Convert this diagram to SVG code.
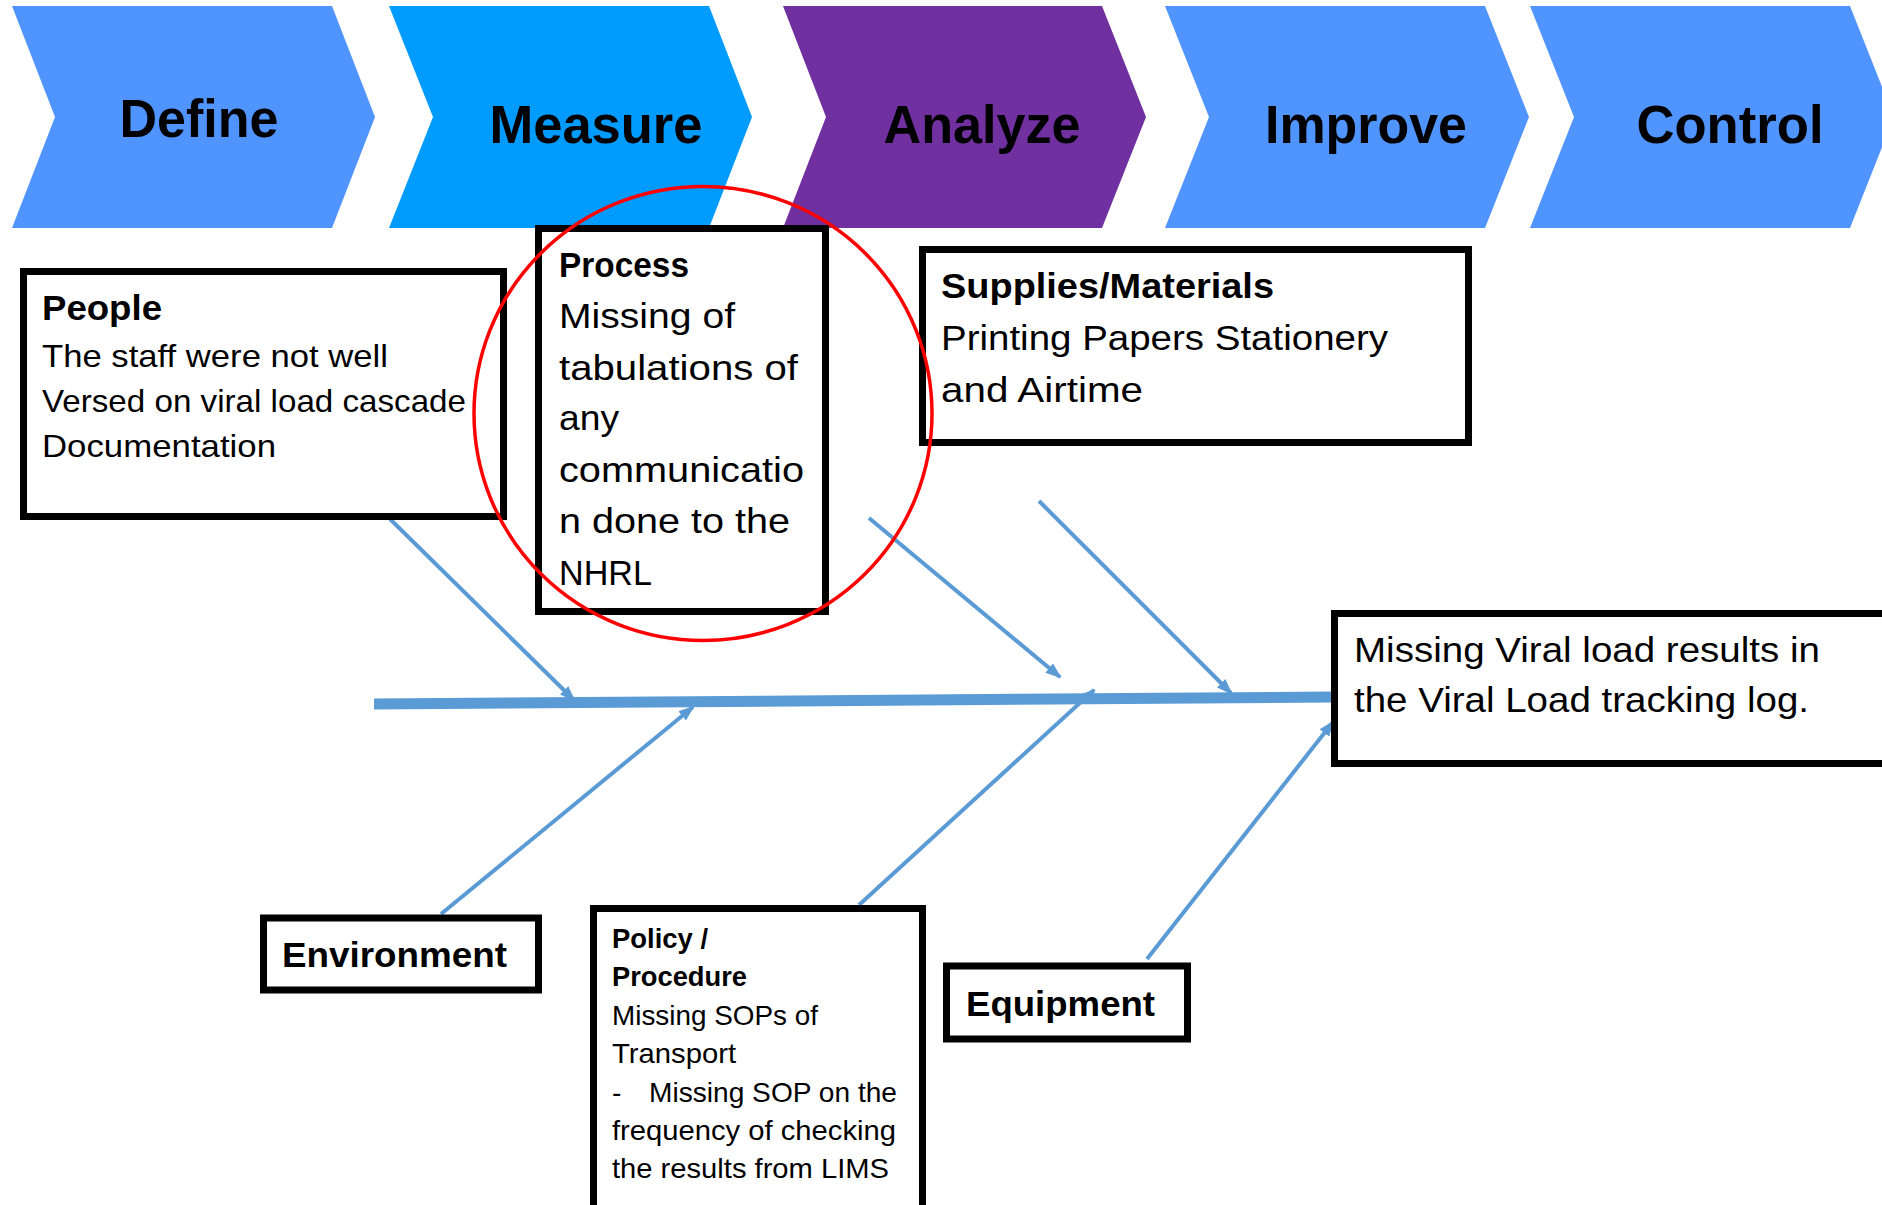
<svg xmlns="http://www.w3.org/2000/svg" width="1882" height="1205" viewBox="0 0 1882 1205">
<style>
.chev-t{font-family:"Liberation Sans",Arial,sans-serif;font-weight:bold;font-size:53px;fill:#000;text-anchor:middle}
.box{fill:#fff;stroke:#000;stroke-width:7}
.t{font-family:"Liberation Sans",Arial,sans-serif;fill:#000}
.b{font-weight:bold}
.bone{stroke:#5B9BD5;stroke-width:4;fill:none}
.spine{stroke:#5B9BD5;stroke-width:11;fill:none}
</style>
<defs>
<marker id="arr" markerUnits="userSpaceOnUse" markerWidth="16" markerHeight="12" refX="14" refY="6" orient="auto">
<path d="M0,0 L16,6 L0,12 Z" fill="#5B9BD5"/>
</marker>
</defs>
<g id="chevrons">
<g id="define"><polygon points="12,6 332,6 375,117 332,228 12,228 55,117" fill="#5094FF"/><text class="chev-t" x="199" y="137" textLength="159" lengthAdjust="spacingAndGlyphs">Define</text></g>
<g id="measure"><polygon points="389,6 709,6 752,117 709,228 389,228 433,117" fill="#009BFF"/><text class="chev-t" x="596" y="143" textLength="213" lengthAdjust="spacingAndGlyphs">Measure</text></g>
<g id="analyze"><polygon points="783,6 1102,6 1146,117 1102,228 783,228 826,117" fill="#7030A0"/><text class="chev-t" x="982" y="143" textLength="197" lengthAdjust="spacingAndGlyphs">Analyze</text></g>
<g id="improve"><polygon points="1165,6 1485,6 1529,117 1485,228 1165,228 1209,117" fill="#5094FF"/><text class="chev-t" x="1366" y="143" textLength="202" lengthAdjust="spacingAndGlyphs">Improve</text></g>
<g id="control"><polygon points="1530,6 1850,6 1894,117 1850,228 1530,228 1574,117" fill="#5094FF"/><text class="chev-t" x="1730" y="143" textLength="187" lengthAdjust="spacingAndGlyphs">Control</text></g>
</g>
<g id="connectors">
<line class="spine" x1="374" y1="704" x2="1334" y2="697"/>
<line class="bone" x1="390" y1="519" x2="574" y2="700" marker-end="url(#arr)"/>
<line class="bone" x1="441" y1="914" x2="693" y2="707" marker-end="url(#arr)"/>
<line class="bone" x1="869" y1="518" x2="1060" y2="677" marker-end="url(#arr)"/>
<line class="bone" x1="1039" y1="501" x2="1231" y2="693" marker-end="url(#arr)"/>
<line class="bone" x1="859" y1="905" x2="1094" y2="690" marker-end="url(#arr)"/>
<line class="bone" x1="1147" y1="959" x2="1333" y2="722" marker-end="url(#arr)"/>
</g>
<g id="people">
<rect class="box" x="23.5" y="271.5" width="480" height="245"/>
<text class="t b" x="42" y="320" font-size="35" textLength="120" lengthAdjust="spacingAndGlyphs">People</text>
<text class="t" x="42" y="367" font-size="32" textLength="346" lengthAdjust="spacingAndGlyphs">The staff were not well</text>
<text class="t" x="42" y="412" font-size="32" textLength="424" lengthAdjust="spacingAndGlyphs">Versed on viral load cascade</text>
<text class="t" x="42" y="457" font-size="32" textLength="234" lengthAdjust="spacingAndGlyphs">Documentation</text>
</g>
<g id="process">
<rect class="box" x="538.5" y="228.5" width="287" height="383"/>
<text class="t b" x="559" y="277" font-size="35" textLength="130" lengthAdjust="spacingAndGlyphs">Process</text>
<text class="t" x="559" y="328" font-size="35" textLength="176" lengthAdjust="spacingAndGlyphs">Missing of</text>
<text class="t" x="559" y="380" font-size="35" textLength="239" lengthAdjust="spacingAndGlyphs">tabulations of</text>
<text class="t" x="559" y="430" font-size="35" textLength="60" lengthAdjust="spacingAndGlyphs">any</text>
<text class="t" x="559" y="482" font-size="35" textLength="245" lengthAdjust="spacingAndGlyphs">communicatio</text>
<text class="t" x="559" y="533" font-size="35" textLength="231" lengthAdjust="spacingAndGlyphs">n done to the</text>
<text class="t" x="559" y="585" font-size="35" textLength="93" lengthAdjust="spacingAndGlyphs">NHRL</text>
</g>
<g id="supplies">
<rect class="box" x="922.5" y="249.5" width="546" height="193"/>
<text class="t b" x="941" y="298" font-size="35" textLength="333" lengthAdjust="spacingAndGlyphs">Supplies/Materials</text>
<text class="t" x="941" y="350" font-size="35" textLength="447" lengthAdjust="spacingAndGlyphs">Printing Papers Stationery</text>
<text class="t" x="941" y="402" font-size="35" textLength="202" lengthAdjust="spacingAndGlyphs">and Airtime</text>
</g>
<g id="effect">
<rect class="box" x="1334.5" y="613.5" width="560" height="150"/>
<text class="t" x="1354" y="662" font-size="35" textLength="466" lengthAdjust="spacingAndGlyphs">Missing Viral load results in</text>
<text class="t" x="1354" y="712" font-size="35" textLength="455" lengthAdjust="spacingAndGlyphs">the Viral Load tracking log.</text>
</g>
<g id="environment">
<rect class="box" x="263.5" y="918" width="275" height="72"/>
<text class="t b" x="282" y="967" font-size="35" textLength="225" lengthAdjust="spacingAndGlyphs">Environment</text>
</g>
<g id="policy">
<rect class="box" x="593.5" y="908.5" width="329" height="310"/>
<text class="t b" x="612" y="948" font-size="28" textLength="96" lengthAdjust="spacingAndGlyphs">Policy /</text>
<text class="t b" x="612" y="986" font-size="28" textLength="135" lengthAdjust="spacingAndGlyphs">Procedure</text>
<text class="t" x="612" y="1025" font-size="28" textLength="206" lengthAdjust="spacingAndGlyphs">Missing SOPs of</text>
<text class="t" x="612" y="1063" font-size="28" textLength="124" lengthAdjust="spacingAndGlyphs">Transport</text>
<text class="t" x="612" y="1102" font-size="28">-</text>
<text class="t" x="649" y="1102" font-size="28" textLength="248" lengthAdjust="spacingAndGlyphs">Missing SOP on the</text>
<text class="t" x="612" y="1140" font-size="28" textLength="284" lengthAdjust="spacingAndGlyphs">frequency of checking</text>
<text class="t" x="612" y="1178" font-size="28" textLength="277" lengthAdjust="spacingAndGlyphs">the results from LIMS</text>
</g>
<g id="equipment">
<rect class="box" x="946.5" y="966" width="241" height="73"/>
<text class="t b" x="966" y="1016" font-size="35" textLength="189" lengthAdjust="spacingAndGlyphs">Equipment</text>
</g>
<g id="highlight">
<ellipse cx="703" cy="413.5" rx="229" ry="227" fill="none" stroke="#FF0000" stroke-width="3.5"/>
</g>
</svg>
